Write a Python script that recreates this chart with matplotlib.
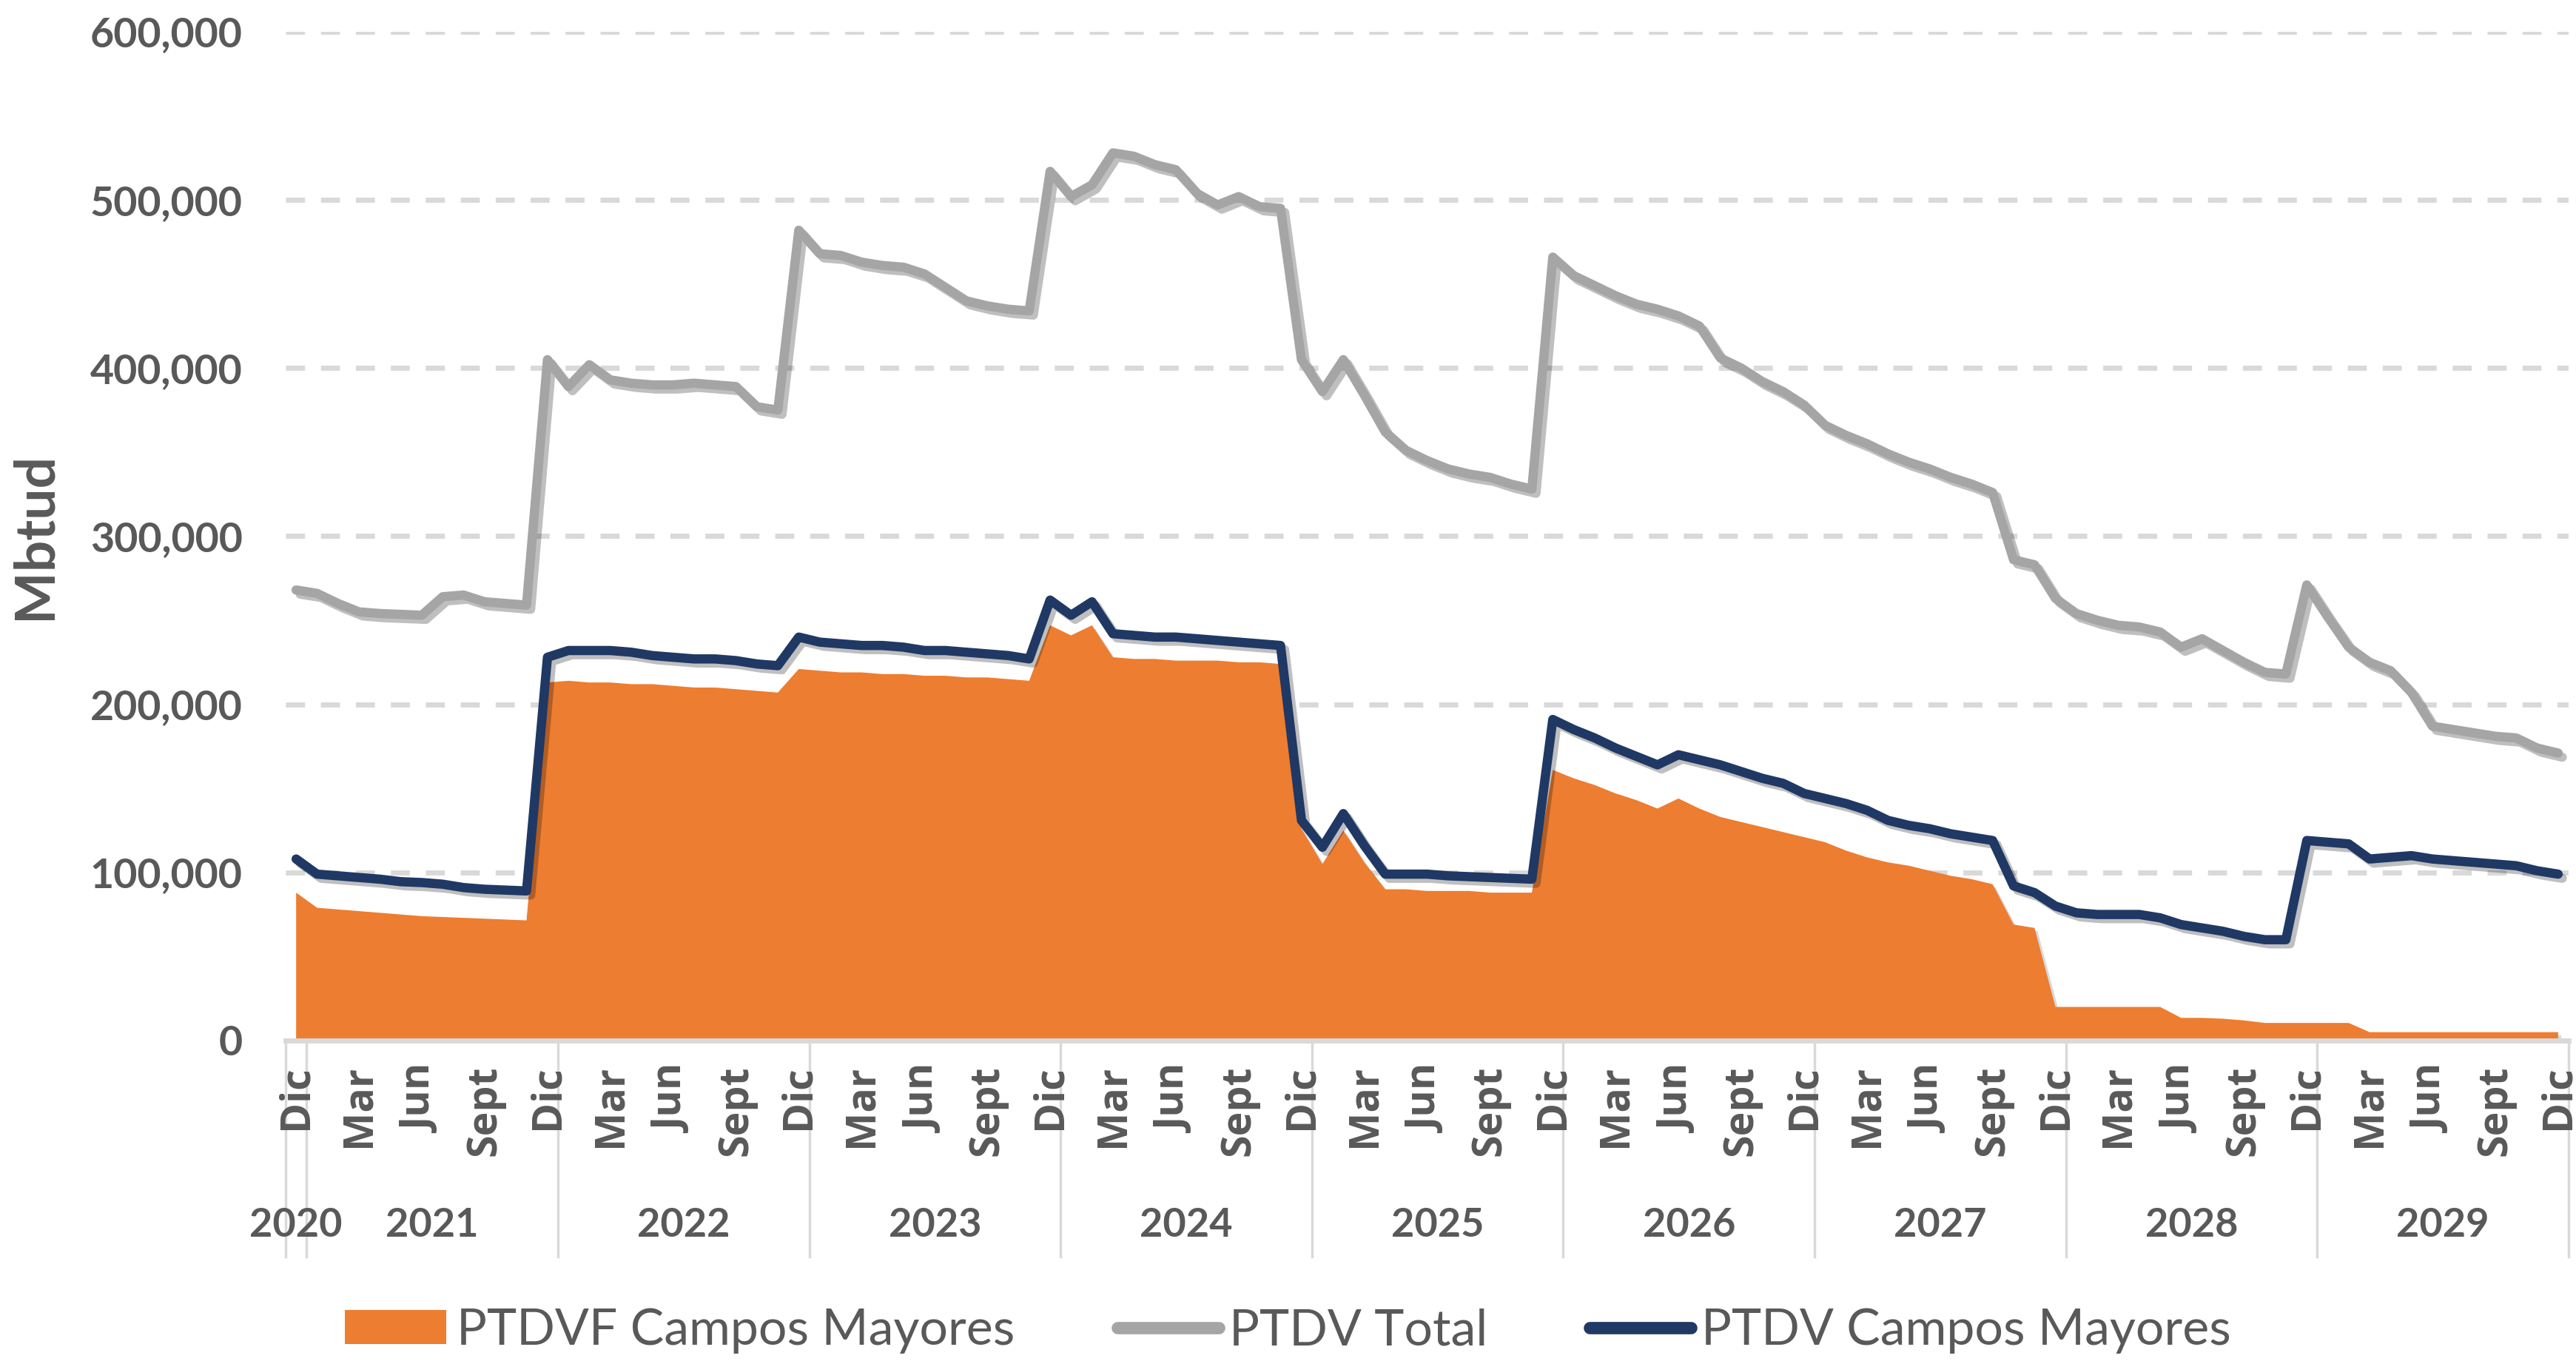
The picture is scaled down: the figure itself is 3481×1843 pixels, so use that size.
import matplotlib
matplotlib.use("Agg")
import matplotlib.pyplot as plt
import matplotlib.patheffects as pe
from matplotlib.lines import Line2D
from matplotlib.patches import Patch
from matplotlib.transforms import blended_transform_factory
import numpy as np

# ---------------- data (thousand Mbtud), monthly Dic 2020 .. Dic 2029 ----------------
ptdv_total = [
    268, 266, 260, 255, 254, 253.5, 253, 264, 265, 261, 260, 259,          # Dic20 - Nov21
    405, 389, 402, 393, 391, 390, 390, 391, 390, 389, 377, 375,            # Dic21 - Nov22
    482, 468, 467, 463, 461, 460, 456, 448, 440, 437, 435, 434,            # Dic22 - Nov23
    517, 502, 509, 528, 526, 521, 518, 504, 497, 502, 496, 495,            # Dic23 - Nov24
    405, 386, 405, 384, 362, 351, 345, 340, 337, 335, 331, 328,            # Dic24 - Nov25
    466, 455, 449, 443, 438, 435, 431, 425, 406, 400, 392, 386,            # Dic25 - Nov26
    378, 366, 360, 355, 349, 344, 340, 335, 331, 326, 286, 283,            # Dic26 - Nov27
    263, 254, 250, 247, 246, 243, 234, 239, 232, 225, 219, 218,            # Dic27 - Nov28
    271, 252, 234, 225, 220, 207, 187, 185, 183, 181, 180, 174,            # Dic28 - Nov29
    171,                                                                   # Dic29
]
ptdv_campos_mayores = [
    108, 99, 98, 97, 96, 94.5, 94, 93, 91, 90, 89.5, 89,
    228, 232, 232, 232, 231, 229, 228, 227, 227, 226, 224, 223,
    240, 237, 236, 235, 235, 234, 232, 232, 231, 230, 229, 227,
    262, 253, 261, 242, 241, 240, 240, 239, 238, 237, 236, 235,
    131, 115, 135, 116, 99, 99, 99, 98, 97.5, 97, 96.5, 96,
    191, 185, 180, 174, 169, 164, 170, 167, 164, 160, 156, 153,
    147, 144, 141, 137, 131, 128, 126, 123, 121, 119, 92, 88,
    80, 76, 75, 75, 75, 73, 69, 67, 65, 62, 60, 60,
    119, 118, 117, 108, 109, 110, 108, 107, 106, 105, 104, 101,
    99,
]
ptdvf_campos_mayores = [
    88, 79, 78, 77, 76, 75, 74, 73.5, 73, 72.5, 72, 71.5,
    213, 214, 213, 213, 212, 212, 211, 210, 210, 209, 208, 207,
    221, 220, 219, 219, 218, 218, 217, 217, 216, 216, 215, 214,
    247, 241, 247, 228, 227, 227, 226, 226, 226, 225, 225, 224,
    126, 105, 125, 106, 90, 90, 89, 89, 89, 88, 88, 88,
    161, 156, 152, 147, 143, 138, 144, 138, 133, 130, 127, 124,
    121, 118, 113, 109, 106, 104, 101, 98, 96, 93, 69, 67,
    20, 20, 20, 20, 20, 20, 13.5, 13.5, 13, 12, 10.5, 10.5,
    10.5, 10.5, 10.5, 5, 5, 5, 5, 5, 5, 5, 5, 5,
    5,
]
month_tick_labels = ["Dic"] + ["Mar", "Jun", "Sept", "Dic"] * 9
year_labels = ["2020", "2021", "2022", "2023", "2024", "2025", "2026", "2027", "2028", "2029"]
y_ticks = [0, 100000, 200000, 300000, 400000, 500000, 600000]
series_names = ["PTDVF Campos Mayores", "PTDV Total", "PTDV Campos Mayores"]

# ---------------- styling ----------------
C_ORANGE = "#ED7D31"
C_GRAY = "#A5A5A5"
C_NAVY = "#203864"
C_TEXT = "#595959"
C_GRID = "#D9D9D9"

fig = plt.figure(figsize=(34.81, 18.43), dpi=100)
ax = fig.add_axes([386 / 3481, 1 - 1406 / 1843, (3471 - 386) / 3481, (1406 - 43) / 1843])

n = len(ptdv_total)
x = np.arange(n)
tot = np.array(ptdv_total) * 1000
cm = np.array(ptdv_campos_mayores) * 1000
fcm = np.array(ptdvf_campos_mayores) * 1000

ax.set_xlim(-0.5, n - 0.5)
ax.set_ylim(0, 600000)

# grid
for yv in y_ticks[1:]:
    ax.axhline(yv, color=C_GRID, lw=5, ls=(0, (3.7, 3.1)), zorder=0)

# area
area = ax.fill_between(x, 0, fcm, color=C_ORANGE, lw=0, zorder=2)
area.set_path_effects([pe.SimplePatchShadow(offset=(3, -3), shadow_rgbFace="k", alpha=0.15), pe.Normal()])

shadow = [pe.SimpleLineShadow(offset=(4, -4), shadow_color="k", alpha=0.25), pe.Normal()]
ax.plot(x, tot, color=C_GRAY, lw=9, solid_joinstyle="round", solid_capstyle="round",
        zorder=3, path_effects=shadow)
ax.plot(x, cm, color=C_NAVY, lw=9, solid_joinstyle="round", solid_capstyle="round",
        zorder=4, path_effects=shadow)

# spines
for s in ["top", "right", "left"]:
    ax.spines[s].set_visible(False)
ax.spines["bottom"].set_color(C_GRID)
ax.spines["bottom"].set_linewidth(5)
ax.spines["bottom"].set_zorder(5)

# y ticks
ax.set_yticks(y_ticks)
ax.set_yticklabels([f"{v:,}" for v in y_ticks], fontfamily="Lato", fontweight="bold",
                   fontsize=40, color=C_TEXT)
ax.tick_params(axis="y", length=0, pad=42)

# x month ticks
tick_pos = np.arange(0, n, 3)
ax.set_xticks(tick_pos)
ax.set_xticklabels(month_tick_labels, rotation=90, fontfamily="Open Sans", fontweight="bold",
                   fontsize=40, color=C_TEXT)
ax.tick_params(axis="x", length=0, pad=24)

# year groups
trans = blended_transform_factory(ax.transData, ax.transAxes)
bounds = [-0.5, 0.5] + [0.5 + 12 * k for k in range(1, len(year_labels))] + [n - 0.5]
bounds = sorted(set(bounds))
for b in bounds:
    ax.plot([b, b], [0, -0.214], transform=trans, color=C_GRID, lw=2.5, clip_on=False, zorder=1)
for k, yl in enumerate(year_labels):
    cx = (bounds[k] + bounds[k + 1]) / 2
    ax.text(cx, -0.183, yl, transform=trans, ha="center", va="center", fontfamily="Lato",
            fontweight="bold", fontsize=39, color=C_TEXT)

# y label
fig.text(0.0135, 1 - 724 / 1843, "Mbtud", rotation=90, ha="center", va="center",
         fontfamily="Lato", fontweight="bold", fontsize=54, color=C_TEXT)

# legend
handles = [
    Patch(facecolor=C_ORANGE, edgecolor="none"),
    Line2D([0], [0], color=C_GRAY, lw=12, solid_capstyle="round"),
    Line2D([0], [0], color=C_NAVY, lw=12, solid_capstyle="round"),
]
F = 49 * 100 / 72
leg = fig.legend(handles, series_names, loc="center", bbox_to_anchor=(0.5, 1 - 1798 / 1843),
                 ncol=3, frameon=False, prop={"family": "Lato", "size": 49},
                 handlelength=137 / F, handleheight=44 / F, handletextpad=14 / F,
                 columnspacing=138 / F, borderpad=0, borderaxespad=0)
for t in leg.get_texts():
    t.set_color(C_TEXT)

fig.savefig("out.png", dpi=100, facecolor="white")
